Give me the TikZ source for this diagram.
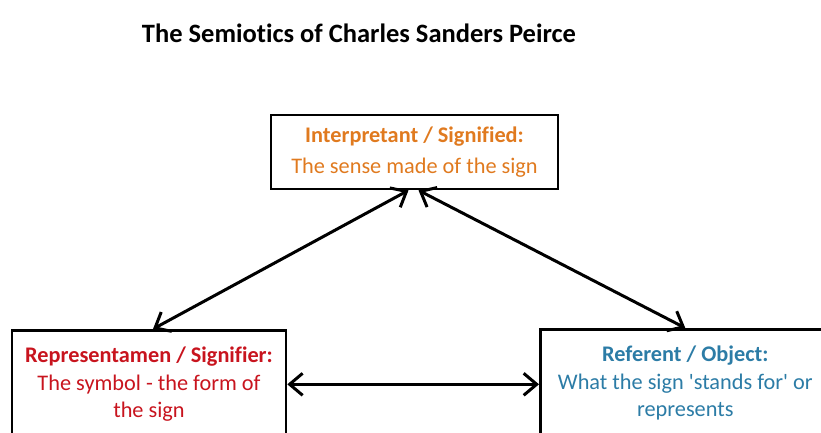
\documentclass[tikz,border=0pt]{standalone}
\usepackage{fontspec}
\setmainfont[Ligatures={NoCommon}]{Carlito}
\usetikzlibrary{arrows.meta,calc}
\definecolor{intcol}{HTML}{E07A1F}
\definecolor{repcol}{HTML}{C8141E}
\definecolor{objcol}{HTML}{2C7CA6}
\begin{document}
\begin{tikzpicture}[x=1pt,y=1pt,
  box/.style={draw, line width=2.6pt, align=center, inner sep=0pt},
  conn/.style={line width=3pt, {Straight Barb[length=13pt,width=22pt]}-{Straight Barb[length=13pt,width=22pt]}}]
\clip (0,0) rectangle (821,-432);
\node[font=\bfseries\fontsize{26.5}{30}\selectfont] (title) at (359,-33) {The Semiotics of Charles Sanders Peirce};
\node[box, minimum width=287, minimum height=74, text=intcol, font=\fontsize{22.3}{31}\selectfont] (interp) at (414.5,-152)
  {\textbf{Interpretant / Signified:}\\The sense made of the sign};
\node[box, anchor=north, minimum width=274, minimum height=108, text=repcol, font=\fontsize{22.3}{27.5}\selectfont] (rep) at (149,-329)
  {\textbf{Representamen / Signifier:}\\The symbol - the form of\\the sign};
\node[box, anchor=north west, minimum width=290, minimum height=108, text=objcol, font=\fontsize{22.3}{27.5}\selectfont] (obj) at (539,-328)
  {\textbf{Referent / Object:}\\What the sign \textquotesingle stands for\textquotesingle{} or\\represents};
\draw[conn] ($(interp.south)+(-6,0)$) -- ($(rep.north)+(4,0)$);
\draw[conn] ($(interp.south)+(4,0)$) -- (obj.north);
\draw[conn] (rep.east) -- (obj.west |- rep.east);
\end{tikzpicture}
\end{document}
